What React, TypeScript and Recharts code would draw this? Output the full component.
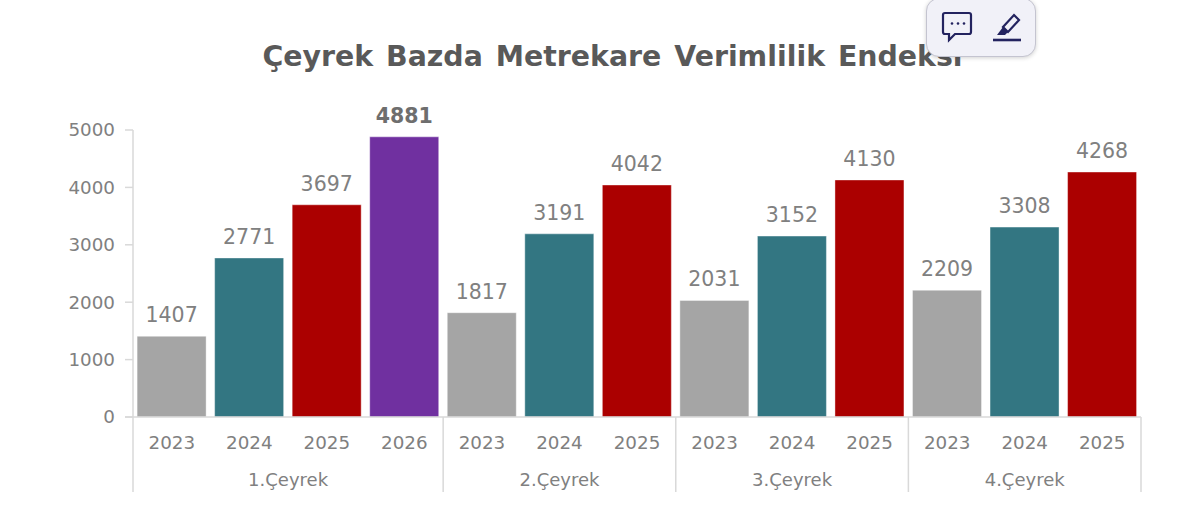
import React from "react";
import { BarChart, Bar, XAxis, YAxis, Cell, LabelList } from "recharts";

const years = ["2023","2024","2025","2026","2023","2024","2025","2023","2024","2025","2023","2024","2025"];
const quarters = ["1.Çeyrek","1.Çeyrek","1.Çeyrek","1.Çeyrek","2.Çeyrek","2.Çeyrek","2.Çeyrek","3.Çeyrek","3.Çeyrek","3.Çeyrek","4.Çeyrek","4.Çeyrek","4.Çeyrek"];
const values = [1407,2771,3697,4881,1817,3191,4042,2031,3152,4130,2209,3308,4268];
const yTicks = [0,1000,2000,3000,4000,5000];
const yearColors: Record<string,string> = { "2023":"#a5a5a5", "2024":"#337682", "2025":"#ab0000", "2026":"#7030a0" };

const data = values.map((v,i)=>({ key:`${quarters[i]}-${years[i]}`, year:years[i], quarter:quarters[i], value:v }));

const W = 1200, H = 527;
const LEFT = 133, RIGHT = 1141, TOP = 130, BASE = 417, BOTTOM_LINE = 492;
const FONT = "'DejaVu Sans', sans-serif";
const AXIS = "#d9d9d9";
const TXT = "#808080";
const band = (RIGHT-LEFT)/values.length;

function XTick(props: any) {
  const { x, index } = props;
  const d = data[index];
  if (!d) return null;
  const first = index===0 || data[index-1].quarter!==d.quarter;
  const count = data.filter(e=>e.quarter===d.quarter).length;
  const last = index===data.length-1;
  return (
    <g>
      <text x={x} y={BASE+32} textAnchor="middle" fontFamily={FONT} fontSize={18.3} fill={TXT}>{d.year}</text>
      {first && <line x1={x-band/2} x2={x-band/2} y1={BASE} y2={BOTTOM_LINE} stroke={AXIS} strokeWidth={1.5}/>}
      {last && <line x1={x+band/2} x2={x+band/2} y1={BASE} y2={BOTTOM_LINE} stroke={AXIS} strokeWidth={1.5}/>}
      {first && <text x={x-band/2+band*count/2} y={BASE+69} textAnchor="middle" fontFamily={FONT} fontSize={18} fill={TXT}>{d.quarter}</text>}
    </g>
  );
}

function ValueLabel(props: any) {
  const { x, y, width, value } = props;
  const bold = value===4881;
  return <text x={x+width/2} y={y-14} textAnchor="middle" fontFamily={FONT} fontSize={20.5} fontWeight={bold?700:400} fill={bold?"#6e6e6e":TXT}>{value}</text>;
}

export default function App() {
  return (
    <div style={{position:"absolute",left:0,top:0,width:W,height:H,overflow:"hidden",background:"#fff"}}>
      <BarChart width={W} height={H} data={data} margin={{top:TOP,right:W-RIGHT,bottom:0,left:LEFT-60}} barCategoryGap="5.3%">
        <XAxis dataKey="key" interval={0} tick={<XTick/>} tickLine={false} axisLine={false} height={H-BASE}/>
        <YAxis width={60} domain={[0,5000]} ticks={yTicks} interval={0} tickSize={8} tickMargin={10}
          tickLine={{stroke:AXIS,strokeWidth:1.5}} axisLine={{stroke:AXIS,strokeWidth:1.5}}
          tick={{fontFamily:FONT,fontSize:18.3,fill:TXT}}/>
        <Bar dataKey="value" isAnimationActive={false} stroke="#ffffff" strokeOpacity={0.4} strokeWidth={1}>
          {data.map(d=><Cell key={d.key} fill={yearColors[d.year]}/>)}
          <LabelList dataKey="value" content={<ValueLabel/>}/>
        </Bar>
      </BarChart>
      <svg width={W} height={H} style={{position:"absolute",left:0,top:0,pointerEvents:"none"}}>
        <line x1={125} x2={RIGHT} y1={BASE} y2={BASE} stroke={AXIS} strokeWidth={1.5}/>
      </svg>
      <div style={{position:"absolute",left:0,top:38,width:1225,textAlign:"center",fontFamily:FONT,fontWeight:700,fontSize:28.4,color:"#595959",whiteSpace:"nowrap",lineHeight:"38px",wordSpacing:3}}>
        Çeyrek Bazda Metrekare Verimlilik Endeksi
      </div>
      <div style={{position:"absolute",left:926,top:-2,width:110,height:59,boxSizing:"border-box",background:"#f1f1f8",border:"1px solid #c4c4d0",borderRadius:13,boxShadow:"0 1px 4px rgba(0,0,0,0.18)"}}>
        <svg width={110} height={68} style={{position:"absolute",left:-1,top:-10}}>
          <path d="M19 24 h24 a2 2 0 0 1 2 2 v17 a2 2 0 0 1 -2 2 h-14 l-6 6 v-6 h-4 a2 2 0 0 1 -2 -2 v-17 a2 2 0 0 1 2 -2 z" fill="none" stroke="#23235f" strokeWidth={2.2}/>
          <circle cx={26} cy={34.5} r={1.3} fill="#23235f"/><circle cx={32} cy={34.5} r={1.3} fill="#23235f"/><circle cx={38} cy={34.5} r={1.3} fill="#23235f"/>
          <path d="M88 26 l5 5 l-11 12 l-5 -5 z" fill="none" stroke="#23235f" strokeWidth={2.2}/>
          <path d="M77 38 l5 5 l-3 3 h-8 z" fill="#23235f"/>
          <line x1={67} x2={95} y1={51} y2={51} stroke="#23235f" strokeWidth={2.6}/>
        </svg>
      </div>
    </div>
  );
}
